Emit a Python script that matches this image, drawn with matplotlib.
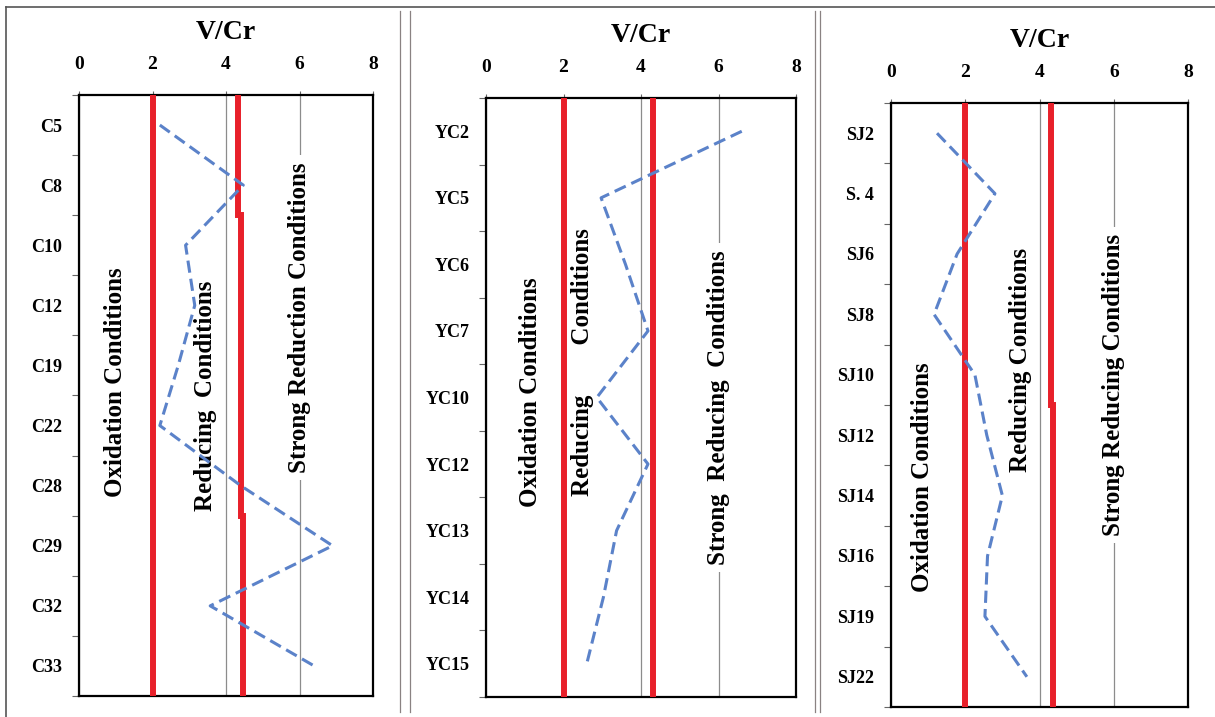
import numpy as np
import matplotlib
matplotlib.use("Agg")
import matplotlib.pyplot as plt
from matplotlib.lines import Line2D

plt.rcParams['font.family'] = ['Liberation Serif', 'DejaVu Serif']
plt.rcParams['font.weight'] = 'bold'

# ---- data -------------------------------------------------------------
# Core C
c_samples = ["C5", "C8", "C10", "C12", "C19", "C22", "C28", "C29", "C32", "C33"]
c_vcr = [2.2, 4.47, 2.9, 3.15, 2.7, 2.2, 4.4, 6.9, 3.57, 6.4]
c_upper = [4.33, 4.33, 4.40, 4.40, 4.40, 4.40, 4.40, 4.45, 4.45, 4.45]

# Core YC
yc_samples = ["YC2", "YC5", "YC6", "YC7", "YC10", "YC12", "YC13", "YC14", "YC15"]
yc_vcr = [6.6, 2.97, 3.6, 4.18, 2.86, 4.18, 3.37, 3.03, 2.6]
yc_upper = [4.31, 4.31, 4.31, 4.31, 4.31, 4.31, 4.31, 4.31, 4.31]

# Core SJ
sj_samples = ["SJ2", "S. 4", "SJ6", "SJ8", "SJ10", "SJ12", "SJ14", "SJ16", "SJ19", "SJ22"]
sj_vcr = [1.24, 2.8, 1.78, 1.16, 2.26, 2.58, 3.0, 2.6, 2.53, 3.66]
sj_upper = [4.31, 4.31, 4.31, 4.31, 4.31, 4.37, 4.37, 4.37, 4.37, 4.37]

oxic_limit = 2.0
vcr_ticks = [0, 2, 4, 6, 8]
axis_title = "V/Cr"

# ---- layout -----------------------------------------------------------
W, H = 1215, 717
fig = plt.figure(figsize=(W / 100, H / 100), dpi=100)
fig.patch.set_facecolor('white')


def box(left, right, top, bottom):
    return [left / W, 1 - bottom / H, (right - left) / W, (bottom - top) / H]


RED = '#e8202a'
BLUE = '#5b82c9'
GRID = '#8c8c8c'

panels = [
    dict(rect=box(79, 373, 95, 696), samples=c_samples, vcr=c_vcr, upper=c_upper,
         labels=[(1.0, 4.28, "Oxidation Conditions"),
                 (3.43, 4.5, "Reducing  Conditions"),
                 (6.0, 3.2, "Strong Reduction Conditions")]),
    dict(rect=box(486, 796, 98, 697), samples=yc_samples, vcr=yc_vcr, upper=yc_upper,
         labels=[(1.14, 3.92, "Oxidation Conditions"),
                 (2.5, 3.47, "Reducing        Conditions"),
                 (5.99, 4.15, "Strong  Reducing  Conditions")]),
    dict(rect=box(891, 1188, 103, 707), samples=sj_samples, vcr=sj_vcr, upper=sj_upper,
         labels=[(0.84, 5.7, "Oxidation Conditions"),
                 (3.48, 3.75, "Reducing Conditions"),
                 (6.0, 4.17, "Strong Reducing Conditions")]),
]

for p in panels:
    ax = fig.add_axes(p['rect'])
    n = len(p['samples'])
    ypos = np.arange(n)

    ax.set_xlim(vcr_ticks[0], vcr_ticks[-1])
    ax.set_ylim(n - 0.5, -0.5)

    # x axis on top
    ax.xaxis.tick_top()
    ax.set_xticks(vcr_ticks)
    ax.tick_params(axis='x', which='major', direction='out', length=3, width=0.8,
                   color='#666666', pad=13, labelsize=14)

    # categories on y, ticks at the row boundaries
    ax.set_yticks(ypos)
    ax.set_yticklabels(p['samples'])
    ax.set_yticks(np.arange(n + 1) - 0.5, minor=True)
    ax.tick_params(axis='y', which='major', length=0, pad=12, labelsize=13)
    ax.tick_params(axis='y', which='minor', length=5, width=0.8, color='#666666')

    for s in ax.spines.values():
        s.set_linewidth(1.6)
        s.set_color('black')

    ax.set_axisbelow(True)
    ax.grid(axis='x', color=GRID, lw=0.9)

    # redox thresholds
    ax.axvline(oxic_limit, color=RED, lw=4.3, zorder=3, solid_capstyle='butt')
    ax.stairs(p['upper'], np.arange(n + 1) - 0.5, orientation='horizontal',
              baseline=None, color=RED, lw=4.3, zorder=3)

    # V/Cr profile
    ax.plot(p['vcr'], ypos, color=BLUE, lw=2.2, dashes=(4, 2), zorder=4)

    # zone names
    for x, y, txt in p['labels']:
        ax.text(x, y, txt, rotation=90, ha='center', va='center', fontsize=18,
                fontweight='bold', zorder=2.5,
                bbox=dict(facecolor='white', edgecolor='none', pad=5))

    ax.annotate(axis_title, xy=(0.5, 1.0), xycoords='axes fraction',
                xytext=(0, 45), textcoords='offset points', ha='center',
                va='center', fontsize=20, fontweight='bold')

# outer frame and panel separators
frame_kw = dict(color='#555555', lw=1.2)
fig.add_artist(Line2D([6 / W, 1.0], [1 - 7 / H, 1 - 7 / H], **frame_kw))
fig.add_artist(Line2D([6 / W, 6 / W], [1 - 7 / H, 0.0], **frame_kw))
sep_kw = dict(color='#8a8282', lw=0.9)
for xs in (399.5, 410, 815, 820):
    fig.add_artist(Line2D([xs / W, xs / W], [1 - 11 / H, 1 - 712 / H], **sep_kw))

fig.savefig('out.png', dpi=100, facecolor='white')
